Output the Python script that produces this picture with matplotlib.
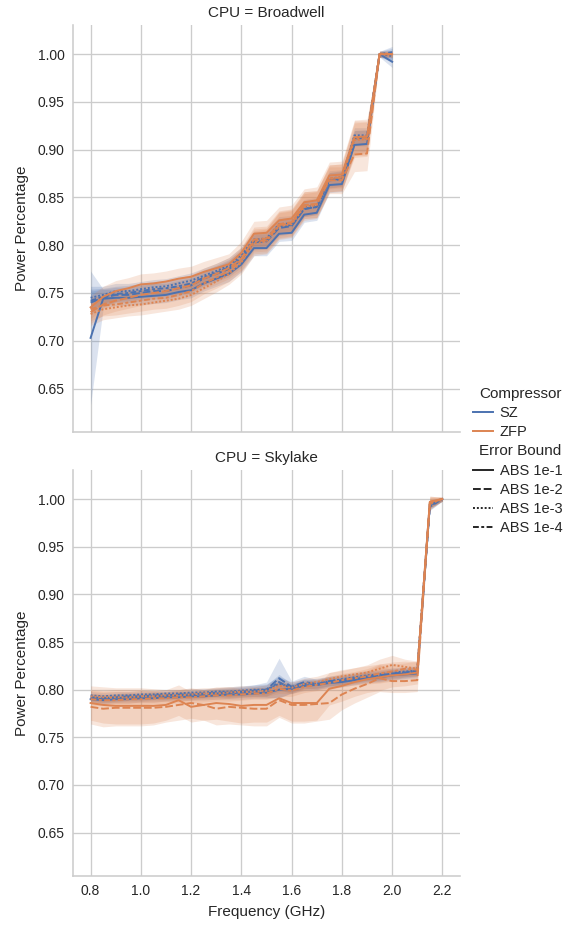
import numpy as np
import matplotlib
matplotlib.use("Agg")
import matplotlib.pyplot as plt
import matplotlib.offsetbox as moff
from matplotlib.lines import Line2D

plt.rcParams['font.family'] = ['Liberation Sans', 'DejaVu Sans']

# ---------------- data ----------------
freq_broadwell = [0.80, 0.85, 0.90, 0.95, 1.00, 1.05, 1.10, 1.15, 1.20, 1.25, 1.30, 1.35, 1.40,
                  1.45, 1.50, 1.55, 1.60, 1.65, 1.70, 1.75, 1.80, 1.85, 1.90, 1.95, 2.00]
freq_skylake = [0.80, 0.85, 0.90, 0.95, 1.00, 1.05, 1.10, 1.15, 1.20, 1.25, 1.30, 1.35, 1.40,
                1.45, 1.50, 1.55, 1.60, 1.65, 1.70, 1.75, 1.80, 1.85, 1.90, 1.95, 2.00,
                2.05, 2.10, 2.15, 2.20]

compressors = ["SZ", "ZFP"]
error_bounds = ["ABS 1e-1", "ABS 1e-2", "ABS 1e-3", "ABS 1e-4"]

# Broadwell means
bw_sz_1e1 = [0.703, 0.744, 0.745, 0.745, 0.746, 0.747, 0.748, 0.751, 0.753, 0.760, 0.765, 0.770, 0.780,
             0.797, 0.797, 0.812, 0.813, 0.832, 0.834, 0.863, 0.864, 0.905, 0.906, 1.000, 0.992]
bw_sz_1e2 = [0.740, 0.745, 0.748, 0.748, 0.750, 0.752, 0.752, 0.755, 0.758, 0.765, 0.770, 0.775, 0.785,
             0.803, 0.804, 0.818, 0.820, 0.838, 0.840, 0.868, 0.870, 0.912, 0.912, 1.000, 1.002]
bw_sz_1e3 = [0.745, 0.748, 0.752, 0.752, 0.754, 0.756, 0.757, 0.760, 0.763, 0.768, 0.773, 0.779, 0.790,
             0.806, 0.807, 0.822, 0.823, 0.840, 0.842, 0.870, 0.871, 0.915, 0.915, 1.000, 0.998]
bw_sz_1e4 = [0.742, 0.746, 0.749, 0.750, 0.752, 0.754, 0.755, 0.757, 0.760, 0.766, 0.771, 0.777, 0.787,
             0.804, 0.805, 0.820, 0.821, 0.838, 0.840, 0.868, 0.869, 0.912, 0.913, 1.000, 1.000]
bw_zfp_1e1 = [0.735, 0.746, 0.752, 0.755, 0.759, 0.760, 0.762, 0.765, 0.767, 0.772, 0.776, 0.780, 0.792,
              0.812, 0.813, 0.826, 0.828, 0.845, 0.847, 0.873, 0.874, 0.913, 0.914, 1.000, 1.000]
bw_zfp_1e2 = [0.730, 0.738, 0.742, 0.745, 0.748, 0.750, 0.752, 0.755, 0.758, 0.765, 0.770, 0.776, 0.786,
              0.806, 0.807, 0.822, 0.824, 0.842, 0.843, 0.868, 0.868, 0.895, 0.896, 1.000, 1.000]
bw_zfp_1e3 = [0.728, 0.733, 0.735, 0.737, 0.738, 0.740, 0.742, 0.744, 0.748, 0.755, 0.762, 0.770, 0.782,
              0.802, 0.804, 0.820, 0.822, 0.840, 0.842, 0.870, 0.871, 0.910, 0.911, 1.000, 1.000]
bw_zfp_1e4 = [0.733, 0.737, 0.738, 0.740, 0.742, 0.744, 0.745, 0.748, 0.752, 0.760, 0.766, 0.773, 0.785,
              0.804, 0.805, 0.821, 0.823, 0.842, 0.843, 0.870, 0.871, 0.912, 0.912, 1.000, 1.000]

# Broadwell confidence half-widths
bw_sz_ci = [0.012, 0.009, 0.008, 0.008, 0.008, 0.008, 0.008, 0.008, 0.008, 0.008, 0.008, 0.008, 0.008,
            0.008, 0.008, 0.008, 0.008, 0.008, 0.008, 0.008, 0.008, 0.008, 0.008, 0.003, 0.006]
bw_sz_1e1_ci = [0.070, 0.010, 0.008, 0.008, 0.008, 0.008, 0.008, 0.008, 0.008, 0.008, 0.008, 0.008, 0.008,
                0.008, 0.008, 0.008, 0.008, 0.008, 0.008, 0.008, 0.008, 0.008, 0.008, 0.003, 0.006]
bw_zfp_ci = [0.012, 0.011, 0.011, 0.011, 0.011, 0.011, 0.011, 0.011, 0.011, 0.011, 0.011, 0.011, 0.012,
             0.013, 0.013, 0.014, 0.014, 0.014, 0.014, 0.014, 0.014, 0.018, 0.018, 0.003, 0.003]

# Skylake means
sl_sz_1e1 = [0.790, 0.789, 0.790, 0.790, 0.791, 0.791, 0.792, 0.792, 0.793, 0.793, 0.794, 0.795, 0.795,
             0.796, 0.797, 0.800, 0.801, 0.804, 0.805, 0.807, 0.808, 0.810, 0.812, 0.813, 0.815,
             0.816, 0.817, 0.995, 1.000]
sl_sz_1e2 = [0.792, 0.791, 0.792, 0.793, 0.793, 0.794, 0.794, 0.795, 0.795, 0.796, 0.797, 0.797, 0.798,
             0.799, 0.800, 0.812, 0.803, 0.808, 0.806, 0.809, 0.810, 0.812, 0.814, 0.815, 0.817,
             0.818, 0.820, 0.995, 1.000]
sl_sz_1e3 = [0.794, 0.793, 0.794, 0.794, 0.795, 0.795, 0.796, 0.796, 0.797, 0.797, 0.798, 0.798, 0.799,
             0.800, 0.800, 0.806, 0.803, 0.806, 0.807, 0.809, 0.811, 0.813, 0.815, 0.816, 0.818,
             0.819, 0.820, 0.993, 1.000]
sl_sz_1e4 = [0.791, 0.790, 0.791, 0.792, 0.792, 0.793, 0.793, 0.794, 0.794, 0.795, 0.796, 0.796, 0.797,
             0.798, 0.799, 0.808, 0.801, 0.806, 0.805, 0.808, 0.809, 0.811, 0.813, 0.814, 0.816,
             0.817, 0.819, 0.992, 1.000]
sl_zfp_1e1 = [0.786, 0.784, 0.783, 0.783, 0.783, 0.783, 0.784, 0.789, 0.782, 0.784, 0.786, 0.785, 0.783,
              0.784, 0.784, 0.791, 0.786, 0.786, 0.786, 0.801, 0.804, 0.808, 0.811, 0.813, 0.815,
              0.816, 0.818, 0.997, 1.000]
sl_zfp_1e2 = [0.782, 0.780, 0.781, 0.781, 0.781, 0.781, 0.782, 0.784, 0.786, 0.784, 0.780, 0.782, 0.781,
              0.780, 0.780, 0.789, 0.784, 0.784, 0.785, 0.786, 0.795, 0.801, 0.806, 0.812, 0.809,
              0.809, 0.810, 0.997, 1.000]
sl_zfp_1e3 = [0.793, 0.792, 0.792, 0.792, 0.793, 0.793, 0.794, 0.794, 0.795, 0.796, 0.796, 0.797, 0.798,
              0.798, 0.799, 0.804, 0.802, 0.806, 0.808, 0.811, 0.814, 0.816, 0.818, 0.822, 0.826,
              0.824, 0.822, 0.995, 1.000]
sl_zfp_1e4 = [0.790, 0.789, 0.789, 0.790, 0.790, 0.791, 0.791, 0.792, 0.792, 0.793, 0.794, 0.794, 0.795,
              0.796, 0.796, 0.801, 0.799, 0.803, 0.805, 0.807, 0.810, 0.812, 0.814, 0.817, 0.819,
              0.822, 0.821, 0.996, 1.000]

# Skylake confidence half-widths
sl_sz_ci = [0.004, 0.004, 0.004, 0.004, 0.004, 0.004, 0.004, 0.004, 0.004, 0.004, 0.004, 0.005, 0.005,
            0.005, 0.006, 0.008, 0.005, 0.005, 0.005, 0.005, 0.005, 0.005, 0.005, 0.005, 0.005,
            0.005, 0.005, 0.004, 0.002]
sl_sz_1e2_ci = [0.004, 0.004, 0.004, 0.004, 0.004, 0.004, 0.004, 0.004, 0.004, 0.004, 0.004, 0.005, 0.005,
                0.006, 0.008, 0.021, 0.006, 0.006, 0.005, 0.005, 0.005, 0.005, 0.005, 0.005, 0.005,
                0.005, 0.005, 0.004, 0.002]
sl_zfp_lo_ci = [0.018, 0.019, 0.019, 0.019, 0.019, 0.018, 0.016, 0.016, 0.016, 0.016, 0.017, 0.018, 0.018,
                0.018, 0.018, 0.018, 0.019, 0.019, 0.018, 0.017, 0.016, 0.015, 0.014, 0.014, 0.012,
                0.012, 0.012, 0.006, 0.002]
sl_zfp_hi_ci = [0.006, 0.006, 0.006, 0.006, 0.006, 0.006, 0.006, 0.006, 0.006, 0.006, 0.006, 0.006, 0.006,
                0.006, 0.006, 0.008, 0.006, 0.006, 0.006, 0.007, 0.007, 0.007, 0.008, 0.010, 0.010,
                0.008, 0.008, 0.006, 0.002]

broadwell = {
    ("SZ", "ABS 1e-1"): (bw_sz_1e1, bw_sz_1e1_ci),
    ("SZ", "ABS 1e-2"): (bw_sz_1e2, bw_sz_ci),
    ("SZ", "ABS 1e-3"): (bw_sz_1e3, bw_sz_ci),
    ("SZ", "ABS 1e-4"): (bw_sz_1e4, bw_sz_ci),
    ("ZFP", "ABS 1e-1"): (bw_zfp_1e1, bw_zfp_ci),
    ("ZFP", "ABS 1e-2"): (bw_zfp_1e2, bw_zfp_ci),
    ("ZFP", "ABS 1e-3"): (bw_zfp_1e3, bw_zfp_ci),
    ("ZFP", "ABS 1e-4"): (bw_zfp_1e4, bw_zfp_ci),
}
skylake = {
    ("SZ", "ABS 1e-1"): (sl_sz_1e1, sl_sz_ci),
    ("SZ", "ABS 1e-2"): (sl_sz_1e2, sl_sz_1e2_ci),
    ("SZ", "ABS 1e-3"): (sl_sz_1e3, sl_sz_ci),
    ("SZ", "ABS 1e-4"): (sl_sz_1e4, sl_sz_ci),
    ("ZFP", "ABS 1e-1"): (sl_zfp_1e1, sl_zfp_lo_ci),
    ("ZFP", "ABS 1e-2"): (sl_zfp_1e2, sl_zfp_lo_ci),
    ("ZFP", "ABS 1e-3"): (sl_zfp_1e3, sl_zfp_hi_ci),
    ("ZFP", "ABS 1e-4"): (sl_zfp_1e4, sl_zfp_hi_ci),
}

panels = [("Broadwell", freq_broadwell, broadwell), ("Skylake", freq_skylake, skylake)]

y_ticks = [0.65, 0.70, 0.75, 0.80, 0.85, 0.90, 0.95, 1.00]
x_ticks = [0.8, 1.0, 1.2, 1.4, 1.6, 1.8, 2.0, 2.2]

# ---------------- style ----------------
colors = {"SZ": "#4c72b0", "ZFP": "#dd8452"}
dashes = {"ABS 1e-1": None, "ABS 1e-2": (4, 1.5), "ABS 1e-3": (1, 1), "ABS 1e-4": (3, 1.25, 1.5, 1.25)}
text_color = "#262626"
grid_color = "#cccccc"
LW = 1.4

fig = plt.figure(figsize=(5.7, 9.26), dpi=100)
W, H = 570, 926
ax_boxes = [(73, 25, 460, 432), (73, 470, 460, 876)]
axes = []
for i, (l, t, r, b) in enumerate(ax_boxes):
    ax = fig.add_axes([l / W, 1 - b / H, (r - l) / W, (b - t) / H])
    axes.append(ax)

for ax, (cpu, xs, series) in zip(axes, panels):
    x = np.array(xs)
    for comp in compressors:
        for eb in error_bounds:
            mean, ci = series[(comp, eb)]
            m = np.array(mean)
            c = np.array(ci)
            ax.fill_between(x, m - c, m + c, color=colors[comp], alpha=0.2, linewidth=0)
    for comp in compressors:
        for eb in error_bounds:
            mean, ci = series[(comp, eb)]
            ln, = ax.plot(x, mean, color=colors[comp], lw=LW)
            if dashes[eb] is not None:
                ln.set_dashes(dashes[eb])
    ax.set_xlim(0.73, 2.27)
    ax.set_ylim(0.6045, 1.0305)
    ax.set_yticks(y_ticks)
    ax.set_xticks(x_ticks)
    ax.grid(True, color=grid_color, lw=0.95)
    ax.set_axisbelow(True)
    for s in ["top", "right"]:
        ax.spines[s].set_visible(False)
    for s in ["left", "bottom"]:
        ax.spines[s].set_color(grid_color)
        ax.spines[s].set_linewidth(1.15)
    ax.tick_params(length=0, labelsize=10, colors=text_color, pad=6)
    ax.set_ylabel("Power Percentage", fontsize=11, color=text_color, labelpad=6)
    ax.set_title(f"CPU = {cpu}", fontsize=11, color=text_color, pad=6)

axes[0].set_xticklabels([])
axes[1].set_xlabel("Frequency (GHz)", fontsize=11, color=text_color, labelpad=5)

# ---------------- legend ----------------
handles = [Line2D([], [], color="none", lw=0)]
labels = ["Compressor"]
for comp in compressors:
    handles.append(Line2D([], [], color=colors[comp], lw=LW))
    labels.append(comp)
handles.append(Line2D([], [], color="none", lw=0))
labels.append("Error Bound")
for eb in error_bounds:
    h = Line2D([], [], color=text_color, lw=LW)
    if dashes[eb] is not None:
        h.set_dashes(dashes[eb])
    handles.append(h)
    labels.append(eb)
handles[0].set_visible(False)
handles[3].set_visible(False)

leg = fig.legend(handles, labels, loc="center left", bbox_to_anchor=(467 / W, 1 - 461 / H),
                 frameon=False, fontsize=10.5, handlelength=1.4, labelspacing=0.36,
                 handletextpad=0.45, borderaxespad=0)
for t in leg.get_texts():
    t.set_color(text_color)
hpackers = leg.findobj(moff.VPacker)[0].get_children()
for hpack in hpackers:
    draw_area, text_area = hpack.get_children()
    hs = draw_area.get_children()
    if not all(a.get_visible() for a in hs):
        draw_area.set_width(0)
        for txt in text_area.get_children():
            txt.set_size(11)

fig.savefig("out.png", dpi=100)
